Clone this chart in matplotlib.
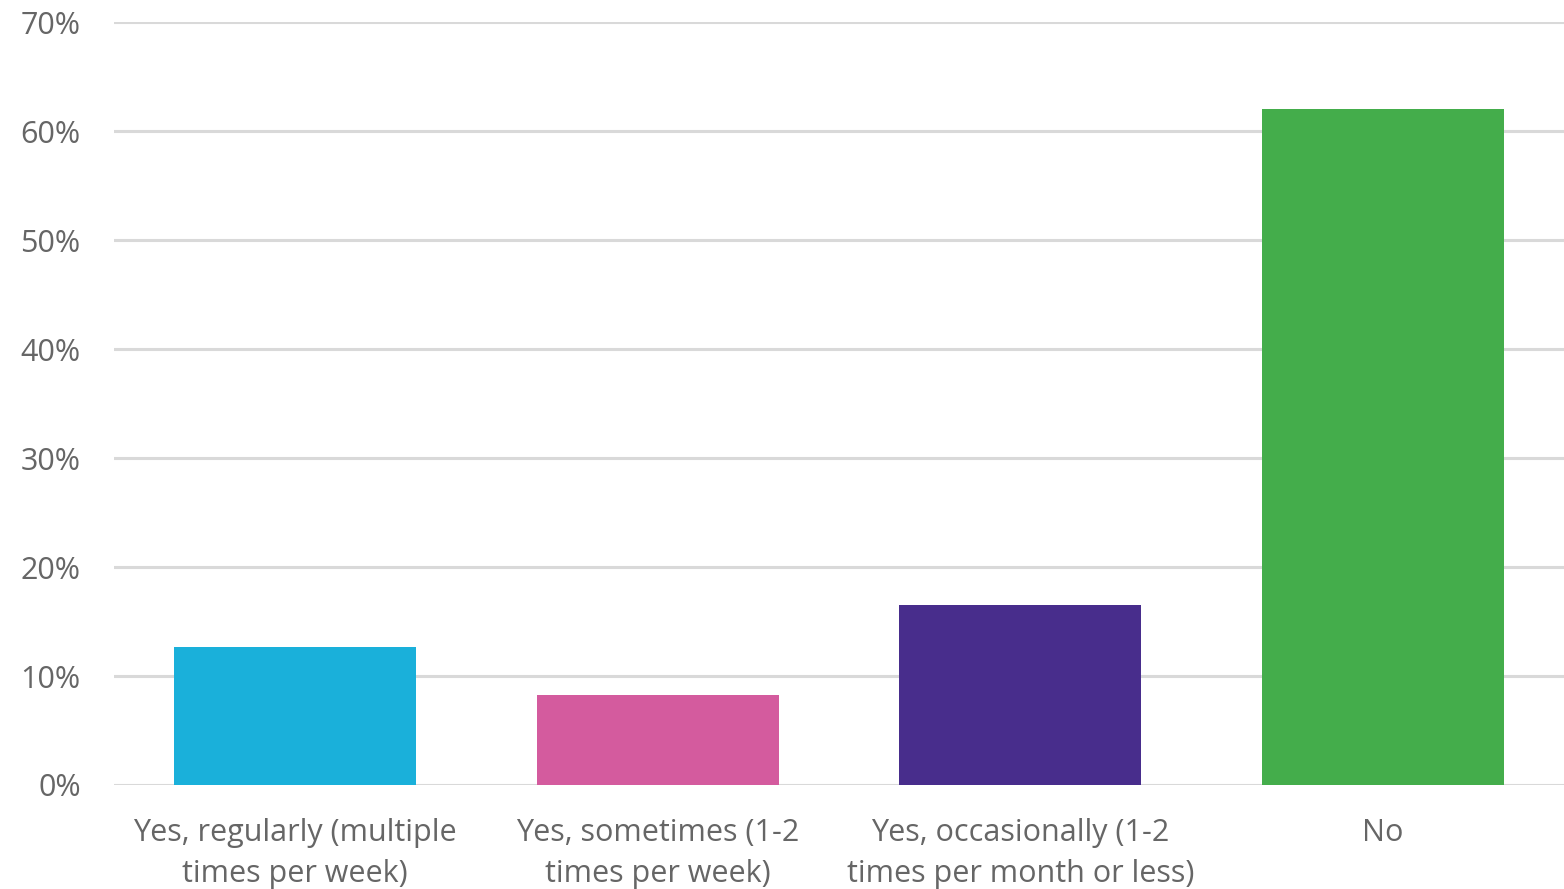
import matplotlib
matplotlib.use('Agg')
import matplotlib.pyplot as plt
import numpy as np

# survey answers (share of respondents)
categories = ['Yes, regularly (multiple\ntimes per week)',
              'Yes, sometimes (1-2\ntimes per week)',
              'Yes, occasionally (1-2\ntimes per month or less)',
              'No']
values = [12.7, 8.3, 16.5, 62.0]
colors = ['#1AB0DA', '#D45B9E', '#482D8C', '#44AD4B']
yticks = [0, 10, 20, 30, 40, 50, 60, 70]

plt.rcParams['font.family'] = ['Open Sans', 'DejaVu Sans']
grey = '#666666'

fig = plt.figure(figsize=(15.64, 8.89), dpi=100)
ax = fig.add_axes([0.0729, 0.117, 0.9271, 0.858])

x = np.arange(len(categories))
ax.bar(x, values, width=0.667, color=colors, zorder=3)

ax.set_xlim(-0.5, 3.5)
ax.set_ylim(0, 70)
ax.set_yticks(yticks)
ax.set_yticklabels([f'{t}%' for t in yticks])
ax.set_xticks(x)
ax.set_xticklabels(categories, linespacing=1.46)

ax.grid(axis='y', color='#d9d9d9', linewidth=2.2, zorder=0)
ax.tick_params(axis='both', length=0, labelsize=22, labelcolor=grey)
ax.tick_params(axis='y', pad=24)
ax.tick_params(axis='x', pad=24)
for s in ['top', 'right', 'left', 'bottom']:
    ax.spines[s].set_visible(False)

fig.savefig('out.png', dpi=100)
